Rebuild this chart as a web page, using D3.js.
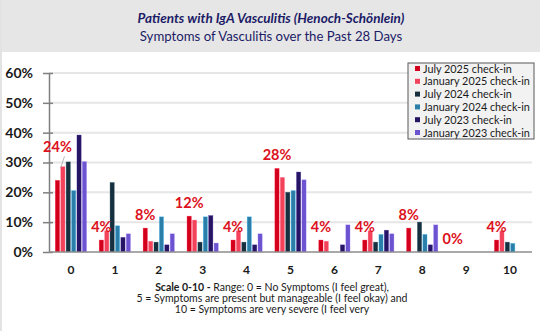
<!DOCTYPE html>
<html>
<head>
<meta charset="utf-8">
<script src="https://cdn.jsdelivr.net/npm/d3@7"></script>
<style>
  html, body { margin: 0; padding: 0; background: #fff; }
  svg { display: block; font-family: Lato, 'Open Sans', sans-serif; }
</style>
</head>
<body>
<svg id="chart" width="540" height="331"></svg>
<script>
const scores = ['0', '1', '2', '3', '4', '5', '6', '7', '8', '9', '10']
const seriesNames = [
  'July 2025 check-in',
  'January 2025 check-in',
  'July 2024 check-in',
  'January 2024 check-in',
  'July 2023 check-in',
  'January 2023 check-in'
]
const seriesColors = ['#d3001c', '#f2435a', '#17303f', '#2a7ea8', '#261565', '#6c53cf']

// percent of patients per score, one array per check-in
const july2025 = [24, 4, 8, 12, 4, 28, 4, 4, 8, 0, 4]
const january2025 = [28.6, 7.1, 3.6, 10.7, 7.1, 25, 3.6, 7.1, 0, 0, 7.1]
const july2024 = [30.2, 23.3, 3.3, 3.3, 3.3, 20, 0, 3.3, 10, 0, 3.3]
const january2024 = [20.6, 8.8, 11.8, 11.8, 11.8, 20.6, 0, 5.9, 5.9, 0, 2.9]
const july2023 = [39.2, 4.9, 2.4, 12.2, 2.4, 26.8, 2.4, 7.3, 2.4, 0, 0]
const january2023 = [30.3, 6.1, 6.1, 3, 6.1, 24.2, 9.1, 6.1, 9.1, 0, 0]
const yTicks = [0, 10, 20, 30, 40, 50, 60]

const allSeries = [july2025, january2025, july2024, january2024, july2023, january2023]

const svg = d3.select('#chart')
const W = 540
const H = 331
const margin = { top: 73, right: 8, bottom: 79, left: 49 }
const plotW = W - margin.left - margin.right
const plotH = H - margin.top - margin.bottom

// header band and left frame
svg.append('rect').attr('x', 0).attr('y', 0).attr('width', W).attr('height', 52).attr('fill', '#e6e6e6')
svg.append('rect').attr('x', 0).attr('y', 0).attr('width', 2).attr('height', H).attr('fill', '#e3e3e3')

svg.append('text')
  .attr('x', 271).attr('y', 23)
  .attr('text-anchor', 'middle')
  .style('font-size', '13.5px').style('font-weight', 'bold').style('font-style', 'italic')
  .style('fill', '#1c1c66')
  .text('Patients with IgA Vasculitis (Henoch-Schönlein)')

svg.append('text')
  .attr('x', 271).attr('y', 41)
  .attr('text-anchor', 'middle')
  .style('font-size', '13.2px')
  .style('fill', '#1c1c66')
  .text('Symptoms of Vasculitis over the Past 28 Days')

const g = svg.append('g').attr('transform', `translate(${margin.left},${margin.top})`)

const x = d3.scaleBand().domain(scores).range([0, plotW]).paddingInner(0.235).paddingOuter(0.1175)
const xs = d3.scaleBand().domain(d3.range(seriesNames.length)).range([0, x.bandwidth()]).padding(0.22)
const y = d3.scaleLinear().domain([0, 60]).range([plotH, 0])

// gridlines
g.selectAll('.grid')
  .data(yTicks.filter((d) => d > 0))
  .join('line')
  .attr('x1', 0).attr('x2', plotW)
  .attr('y1', (d) => y(d)).attr('y2', (d) => y(d))
  .attr('stroke', '#e6e6e6').attr('stroke-width', 2)

// y axis with crossing ticks
const yAxis = g.append('g')
  .call(d3.axisLeft(y).tickValues(yTicks).tickFormat((d) => d + '%').tickSize(0).tickPadding(16))
yAxis.select('.domain').attr('stroke', '#7f7f7f').attr('stroke-width', 1.5)
yAxis.selectAll('.tick text')
  .style('font-family', 'Lato, sans-serif').style('font-size', '14px').style('font-weight', 'bold')
  .style('fill', '#1a1a1a')
yAxis.selectAll('.tick')
  .append('line')
  .attr('x1', -6).attr('x2', 4)
  .attr('stroke', '#7f7f7f').attr('stroke-width', 1.5)

// bars
const groups = g.selectAll('.score')
  .data(scores)
  .join('g')
  .attr('transform', (d) => `translate(${x(d)},0)`)

groups.selectAll('rect')
  .data((d, i) => allSeries.map((s, k) => ({ k, v: s[i] })).filter((b) => b.v > 0))
  .join('rect')
  .attr('x', (b) => xs(b.k))
  .attr('y', (b) => y(b.v))
  .attr('width', xs.bandwidth())
  .attr('height', (b) => plotH - y(b.v))
  .attr('fill', (b) => seriesColors[b.k])
  .attr('stroke', (b) => d3.color(seriesColors[b.k]).brighter(1.2))
  .attr('stroke-opacity', 0.5)
  .attr('stroke-width', 0.6)

// x baseline
g.append('line')
  .attr('x1', 0).attr('x2', plotW)
  .attr('y1', plotH).attr('y2', plotH)
  .attr('stroke', '#8c8c8c').attr('stroke-width', 1.5)

// x axis labels
const xAxis = g.append('g')
  .attr('transform', `translate(0,${plotH})`)
  .call(d3.axisBottom(x).tickSize(0).tickPadding(13))
xAxis.select('.domain').remove()
xAxis.selectAll('.tick text')
  .style('font-family', 'Lato, sans-serif').style('font-size', '12px').style('font-weight', 'bold')
  .style('fill', '#1a1a1a')

// value labels for the latest check-in
const labelLift = (i) => (i === 0 ? 28 : 8)
g.selectAll('.value')
  .data(july2025)
  .join('text')
  .attr('x', (d, i) => x(scores[i]) + xs(0) + xs.bandwidth() / 2)
  .attr('y', (d, i) => y(d) - labelLift(i))
  .attr('text-anchor', 'middle')
  .style('font-size', '14.5px').style('font-weight', 'bold')
  .style('fill', '#dc1020')
  .text((d) => d + '%')

// leader line for the displaced first label
const cx0 = x(scores[0]) + xs(0) + xs.bandwidth() / 2
g.append('line')
  .attr('x1', cx0 + 7).attr('y1', y(july2025[0]) - 24)
  .attr('x2', cx0 + 3).attr('y2', y(july2025[0]) - 12)
  .attr('stroke', '#a6a6a6').attr('stroke-width', 0.8)

// legend
const legend = svg.append('g').attr('transform', 'translate(408,63)')
legend.append('rect')
  .attr('width', 126).attr('height', 76)
  .attr('fill', '#f2f2f2').attr('stroke', '#595959').attr('stroke-width', 1)
const rows = legend.selectAll('.row')
  .data(seriesNames)
  .join('g')
  .attr('transform', (d, i) => `translate(0,${5.5 + i * 12.8})`)
rows.append('rect')
  .attr('x', 7).attr('y', -2.5).attr('width', 5).attr('height', 5)
  .attr('fill', (d, i) => seriesColors[i])
rows.append('text')
  .attr('x', 15).attr('y', 4)
  .style('font-size', '10.8px').style('fill', '#1a1a1a')
  .text((d) => d)

// scale note under the axis
const noteLines = [
  ['Scale 0-10 - ', 'Range: 0 = No Symptoms (I feel great),'],
  ['', '5 = Symptoms are present but manageable (I feel okay) and'],
  ['', '10 = Symptoms are very severe (I feel very']
]
noteLines.forEach((ln, i) => {
  const t = svg.append('text')
    .attr('x', 272).attr('y', 291 + i * 11)
    .attr('text-anchor', 'middle')
    .style('font-size', '10.5px').style('fill', '#1a1a1a')
  if (ln[0]) t.append('tspan').style('font-weight', 'bold').text(ln[0])
  t.append('tspan').text(ln[1])
})
</script>
</body>
</html>
